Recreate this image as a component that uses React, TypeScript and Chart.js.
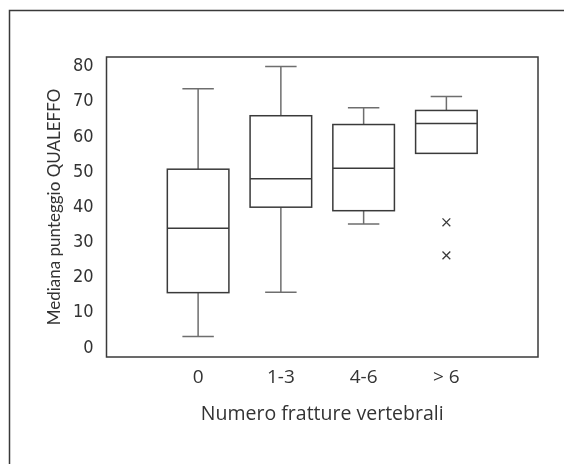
import React, { useEffect, useRef } from "react";
import { Chart, registerables } from "chart.js";

Chart.register(...registerables);

const categories = ["0", "1-3", "4-6", "> 6"];
const whiskerMin = [3.2, 15.8, 35.2, 55.3];
const q1Values = [15.7, 40.0, 39.0, 55.3];
const medians = [34.0, 48.1, 51.1, 63.8];
const q3Values = [50.8, 66.0, 63.5, 67.5];
const whiskerMax = [73.7, 80.0, 68.3, 71.5];
const outlierCategory = [3, 3];
const outlierValues = [35.7, 26.3];
const yTicks = [0, 10, 20, 30, 40, 50, 60, 70, 80];

const boxPlugin = {
  id: "boxPlugin",
  beforeDraw(chart: any) {
    const ctx = chart.ctx;
    ctx.save();
    ctx.strokeStyle = "#3a3a3a";
    ctx.lineWidth = 1.5;
    ctx.strokeRect(9.5, 10.5, 700, 700);
    ctx.restore();
  },
  afterDatasetsDraw(chart: any) {
    const ctx = chart.ctx;
    const x = chart.scales.x;
    const y = chart.scales.y;
    const area = chart.chartArea;
    ctx.save();
    ctx.lineCap = "butt";
    categories.forEach((_, i) => {
      const cx = x.getPixelForValue(i);
      const bl = x.getPixelForValue(i - 0.372);
      const br = x.getPixelForValue(i + 0.372);
      const cl = x.getPixelForValue(i - 0.19);
      const cr = x.getPixelForValue(i + 0.19);
      const yMin = y.getPixelForValue(whiskerMin[i]);
      const yQ1 = y.getPixelForValue(q1Values[i]);
      const yMed = y.getPixelForValue(medians[i]);
      const yQ3 = y.getPixelForValue(q3Values[i]);
      const yMax = y.getPixelForValue(whiskerMax[i]);
      ctx.strokeStyle = "#6e6e6e";
      ctx.lineWidth = 1.5;
      ctx.beginPath();
      if (yMin - yQ1 > 0.5) {
        ctx.moveTo(cx, yQ1);
        ctx.lineTo(cx, yMin);
        ctx.moveTo(cl, yMin);
        ctx.lineTo(cr, yMin);
      }
      ctx.moveTo(cx, yQ3);
      ctx.lineTo(cx, yMax);
      ctx.moveTo(cl, yMax);
      ctx.lineTo(cr, yMax);
      ctx.stroke();
      ctx.strokeStyle = "#3a3a3a";
      ctx.lineWidth = 1.5;
      ctx.strokeRect(bl, yQ3, br - bl, yQ1 - yQ3);
      ctx.beginPath();
      ctx.moveTo(bl, yMed);
      ctx.lineTo(br, yMed);
      ctx.stroke();
    });
    ctx.strokeStyle = "#3a3a3a";
    ctx.lineWidth = 1.5;
    ctx.strokeRect(area.left, area.top, area.right - area.left, area.bottom - area.top);
    ctx.restore();
  },
};

export default function App() {
  const ref = useRef<HTMLCanvasElement>(null);
  useEffect(() => {
    if (!ref.current) return;
    const chart = new Chart(ref.current, {
      type: "scatter",
      data: {
        datasets: [
          {
            label: "Outliers",
            data: outlierCategory.map((c, i) => ({ x: c, y: outlierValues[i] })),
            pointStyle: "crossRot",
            pointRadius: 5.5,
            borderColor: "#3a3a3a",
            backgroundColor: "#3a3a3a",
            borderWidth: 1.3,
          },
        ],
      },
      options: {
        responsive: false,
        animation: false,
        layout: { padding: { top: 57, right: 26, left: 0, bottom: 0 } },
        plugins: { legend: { display: false }, tooltip: { enabled: false } },
        scales: {
          x: {
            type: "linear",
            min: -1.107,
            max: 4.107,
            afterFit(scale: any) {
              scale.height = 107;
            },
            afterBuildTicks(scale: any) {
              scale.ticks = categories.map((_, i) => ({ value: i }));
            },
            grid: { display: false, drawTicks: false },
            border: { display: false },
            ticks: {
              padding: 9,
              color: "#333",
              font: { family: "Open Sans", size: 19 },
              callback: (v: any) => categories[v as number] ?? "",
            },
            title: {
              display: true,
              text: "Numero fratture vertebrali",
              color: "#333",
              font: { family: "Open Sans", size: 19.5 },
              padding: { top: 0, bottom: 38 },
            },
          },
          y: {
            min: -2.6,
            max: 82.7,
            afterFit(scale: any) {
              scale.width = 106.5;
            },
            afterBuildTicks(scale: any) {
              scale.ticks = yTicks.map((v) => ({ value: v }));
            },
            grid: { display: false, drawTicks: false },
            border: { display: false },
            ticks: {
              padding: 13,
              color: "#333",
              font: { family: "DejaVu Sans Condensed", size: 18 },
            },
            title: {
              display: true,
              text: "Mediana punteggio QUALEFFO",
              color: "#333",
              font: { family: "Lato", size: 17 },
              padding: { top: 44, bottom: 0 },
            },
          },
        },
      },
      plugins: [boxPlugin],
    } as any);
    return () => chart.destroy();
  }, []);
  return (
    <div style={{ position: "absolute", left: 0, top: 0, width: 564, height: 464, background: "#fff" }}>
      <canvas ref={ref} width={564} height={464} style={{ display: "block" }} />
    </div>
  );
}
